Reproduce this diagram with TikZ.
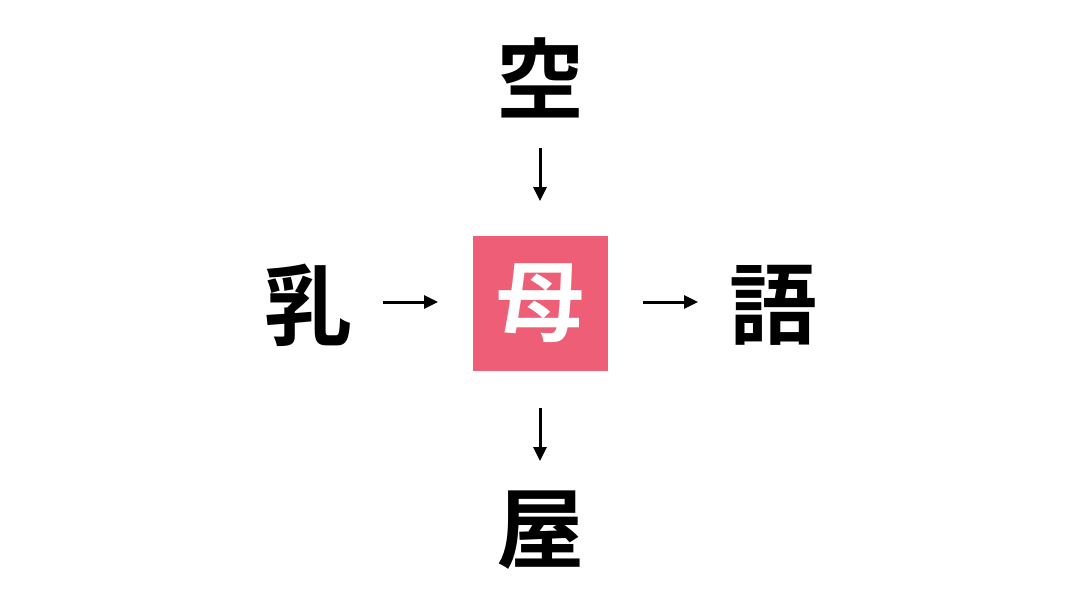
\documentclass[tikz,border=0pt]{standalone}
\usepackage{fontspec}
\newfontfamily\cjk{Noto Sans CJK JP Bold}
\usetikzlibrary{arrows.meta}
\definecolor{boxpink}{RGB}{238,94,118}
\tikzset{kanji/.style={font=\cjk\fontsize{88}{88}\selectfont,inner sep=0pt},
 arr/.style={line width=3pt,-{Triangle[length=14pt,width=13pt]}}}
\begin{document}
\begin{tikzpicture}[x=1pt,y=-1pt]
\fill[white] (0,0) rectangle (1080,608);
\useasboundingbox (0,0) rectangle (1080,608);
\node[kanji] (top) at (540,78) {空};
\node[kanji] (left) at (308,305) {乳};
\node[kanji] (right) at (773,305) {語};
\node[kanji] (bot) at (540,530) {屋};
\node[fill=boxpink,minimum width=135pt,minimum height=135pt,inner sep=0pt] (mid) at (540,303.5) {};
\node[kanji,text=white] (midt) at (540,303.5) {母};
\coordinate (a1) at (540,148); \coordinate (a2) at (540,201);
\coordinate (b1) at (540,408); \coordinate (b2) at (540,461);
\coordinate (c1) at (383,302); \coordinate (c2) at (438,302);
\coordinate (d1) at (643,302); \coordinate (d2) at (698,302);
\draw[arr] (a1) -- (a2);
\draw[arr] (b1) -- (b2);
\draw[arr] (c1) -- (c2);
\draw[arr] (d1) -- (d2);
\end{tikzpicture}
\end{document}
